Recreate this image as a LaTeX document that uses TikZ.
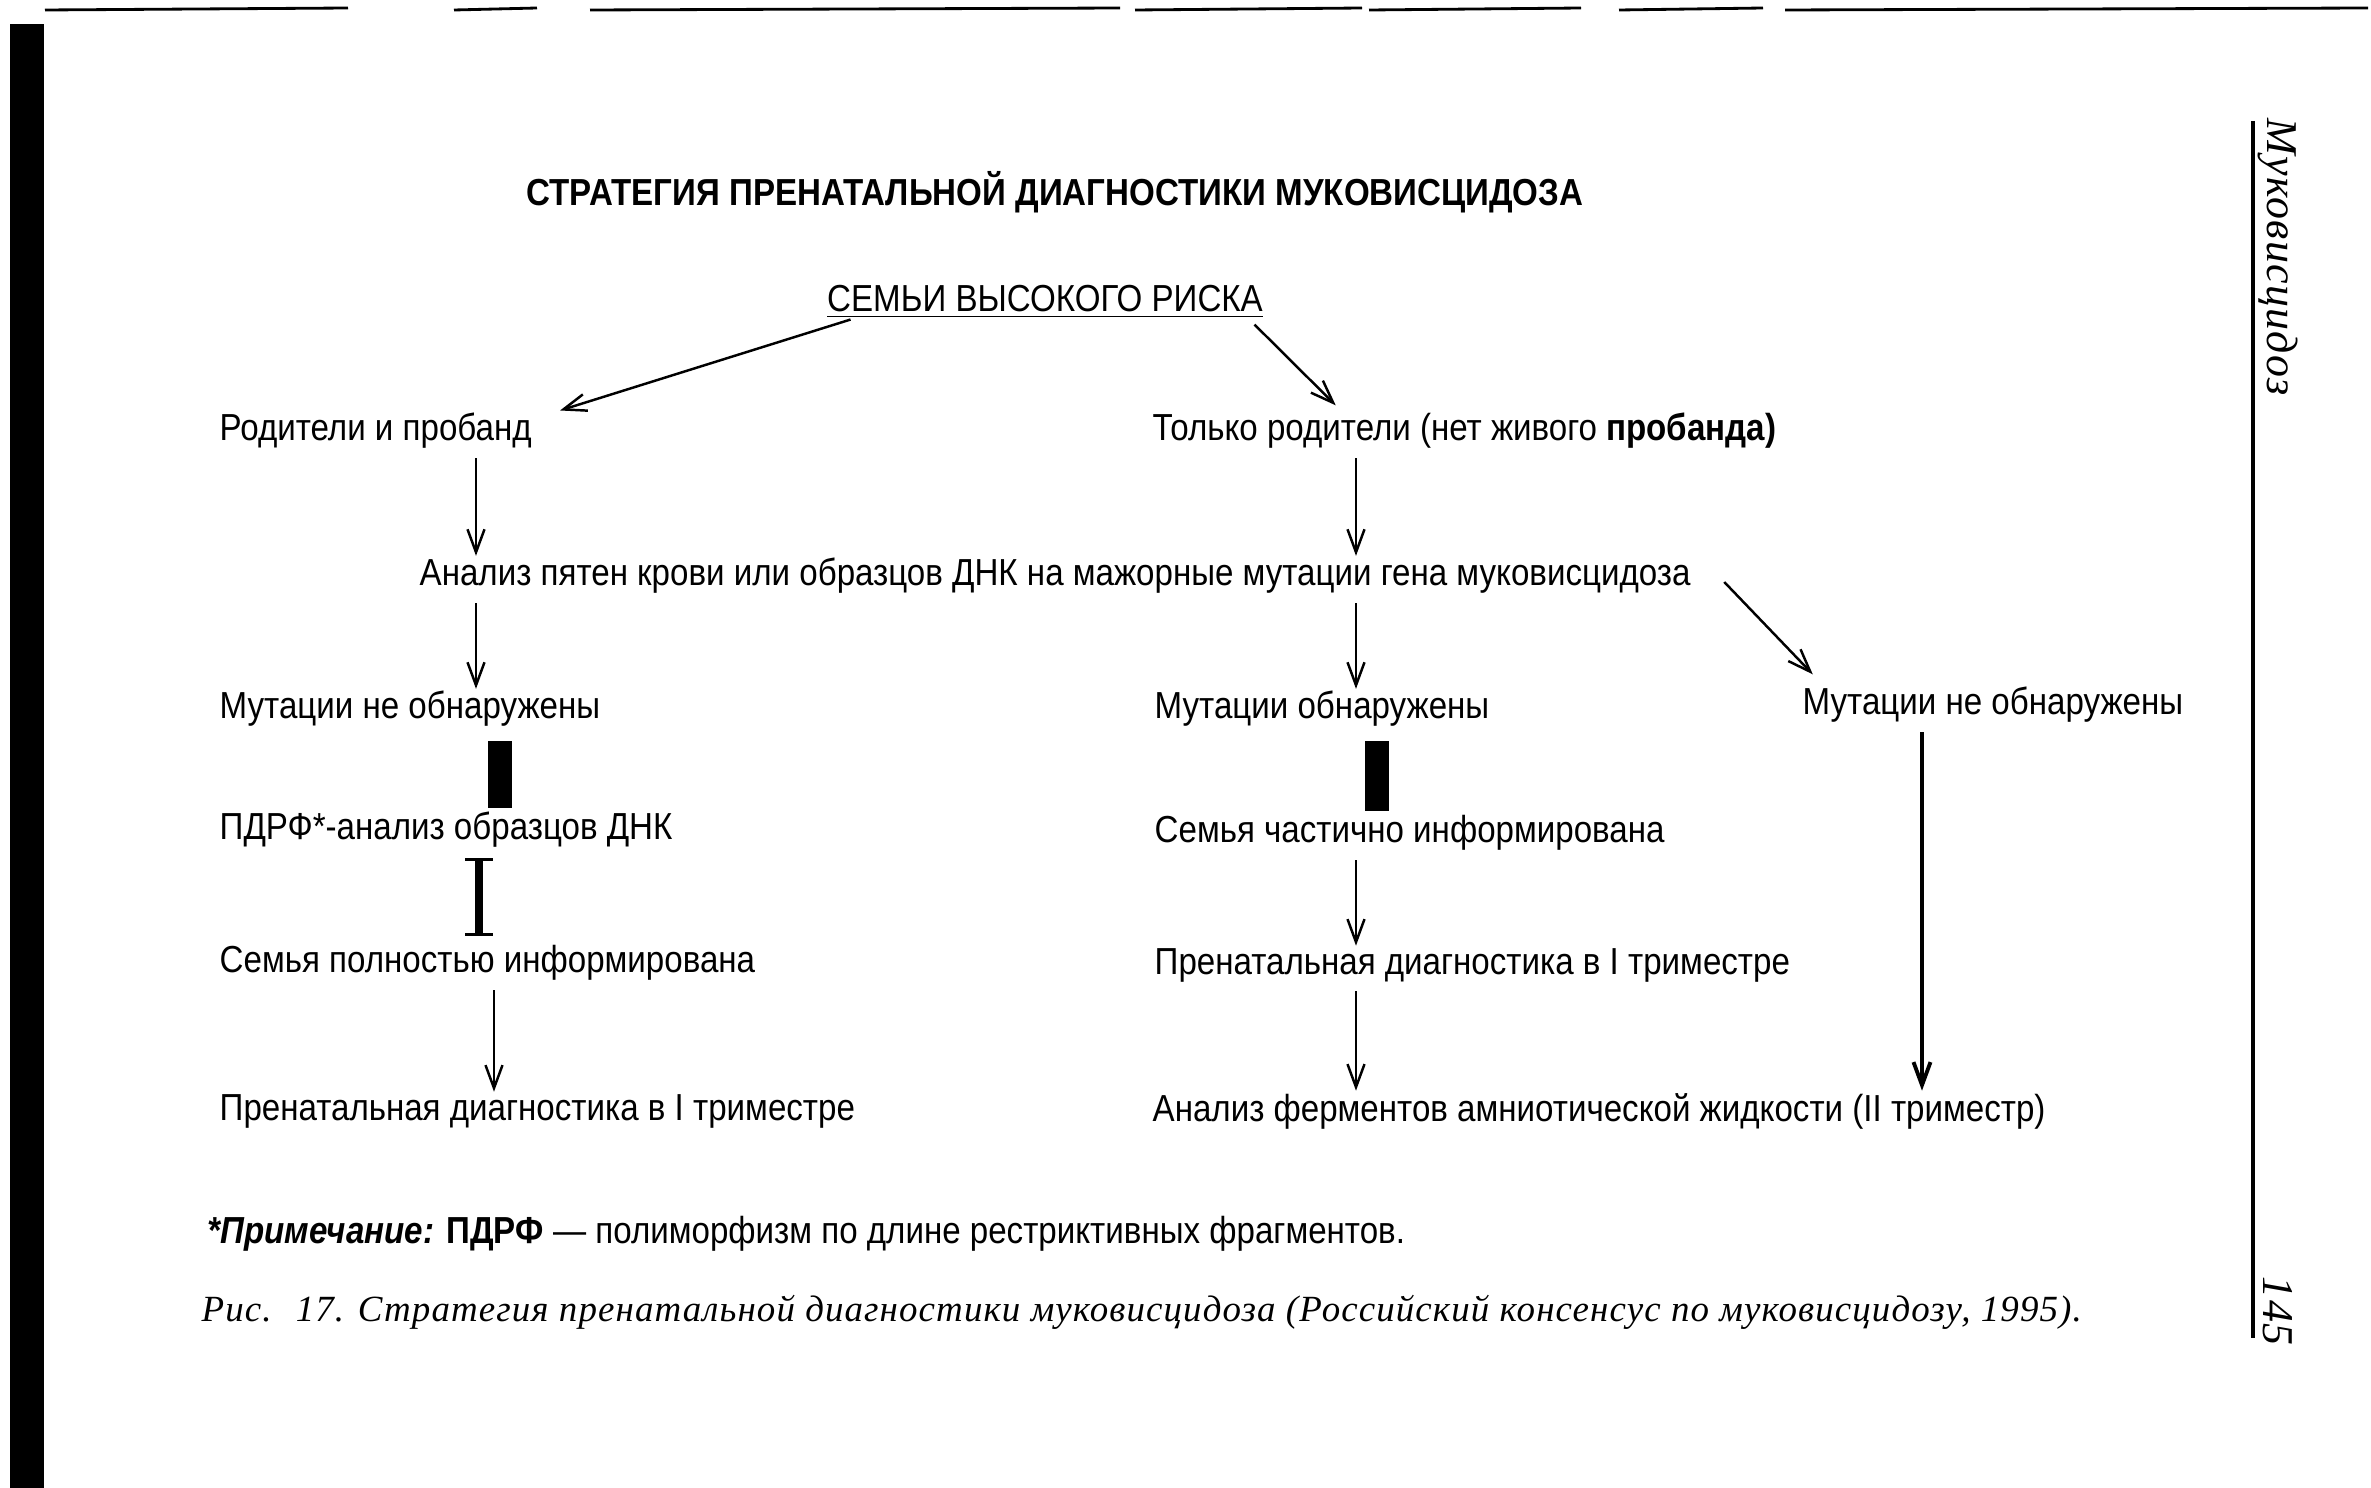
\documentclass[tikz,border=0pt]{standalone}
\usepackage{fontspec}
\setmainfont[FakeStretch=0.88]{Liberation Sans}
\newfontfamily\serifit[LetterSpace=3]{Liberation Serif}
\usepackage{tikz}
\usetikzlibrary{arrows.meta}

\begin{document}
\begin{tikzpicture}[x=0.01cm,y=-0.01cm,>={Straight Barb[length=2.3mm,width=1.7mm]},
    txt/.style={anchor=west,inner sep=0pt,font=\fontsize{10.7}{12}\selectfont},
    arr/.style={->,line width=0.7pt,shorten <=2.5pt,shorten >=0.5pt},
    bar/.style={line width=0.24cm,shorten <=4pt,shorten >=1pt},
    ibeam/.style={{Bar[width=2.7mm,line width=0.9pt]}-{Bar[width=2.7mm,line width=0.9pt]},
      line width=2.2pt,shorten <=2.7pt,shorten >=2.4pt}]
    \useasboundingbox (0,0) rectangle (2371,1488);
    % page edges of the scan
    \fill (10,24) rectangle (44,1488);
    \foreach \a/\b in {45/348,454/537,590/1120,1135/1362,1369/1581,1619/1763,1785/2368}
        \draw[line width=0.8pt] (\a,10) -- (\b,8);
    \draw[line width=1.4pt] (2253,121) -- (2253,1338);
    \node[rotate=-90,inner sep=0pt,font=\serifit\itshape\fontsize{12.5}{14}\selectfont] (side) at (2278,257) {Муковисцидоз};
    \node[rotate=-90,inner sep=0pt,font=\serifit\itshape\fontsize{12.5}{14}\selectfont] (pg) at (2278,1311) {145};

    \node[inner sep=0pt,font=\bfseries\fontsize{10.7}{12}\selectfont] (title) at (1055,192) {СТРАТЕГИЯ ПРЕНАТАЛЬНОЙ ДИАГНОСТИКИ МУКОВИСЦИДОЗА};
    \node[txt,anchor=center] (risk) at (1045,302) {\underline{СЕМЬИ ВЫСОКОГО РИСКА}};
    \node[txt] (rod) at (219,431) {Родители и пробанд};
    \node[txt] (tol) at (1152,431) {Только родители (нет живого \textbf{пробанда)}};
    \node[txt] (anal) at (419,576) {Анализ пятен крови или образцов ДНК на мажорные мутации гена муковисцидоза};
    \node[txt] (mutL) at (219,709) {Мутации не обнаружены};
    \node[txt] (mutM) at (1154,709) {Мутации обнаружены};
    \node[txt] (mutR) at (1802,705) {Мутации не обнаружены};
    \node[txt] (pdrf) at (219,830) {ПДРФ*-анализ образцов ДНК};
    \node[txt] (chast) at (1154,833) {Семья частично информирована};
    \node[txt] (poln) at (219,963) {Семья полностью информирована};
    \node[txt] (prenM) at (1154,965) {Пренатальная диагностика в I триместре};
    \node[txt] (prenL) at (219,1111) {Пренатальная диагностика в I триместре};
    \node[txt] (ferm) at (1152,1111) {Анализ ферментов амниотической жидкости (II триместр)};
    \node[txt] (note) at (207,1234) {\textbf{\textit{*Примечание:}} \textbf{ПДРФ} — полиморфизм по длине рестриктивных фрагментов.};
    \node[txt,font=\serifit\itshape\fontsize{10.5}{13}\selectfont] (cap) at (201,1312) {Рис.~ 17. Стратегия пренатальной диагностики муковисцидоза (Российский консенсус по муковисцидозу, 1995).};

    \coordinate (colL) at (476,0);
    \coordinate (colL2) at (494,0);
    \coordinate (colLb) at (500,0);
    \coordinate (colI) at (479,0);
    \coordinate (colM) at (1356,0);
    \coordinate (colMb) at (1377,0);
    \coordinate (colR) at (1922,0);

    \path[arr] ([shift={(24,0)}]risk.south west) edge[shorten <=0pt] ([shift={(26,-20)}]rod.east)
        ([shift={(-9,5)}]risk.south east) edge[shorten <=0pt] ([shift={(185,-6)}]tol.north west)
        (colL |- rod.south) edge (colL |- anal.north)
        (colM |- tol.south) edge (colM |- anal.north)
        (colL |- anal.south) edge (colL |- mutL.north)
        (colM |- anal.south) edge (colM |- mutM.north)
        ([shift={(33,6)}]anal.east) edge[shorten <=0pt] ([shift={(12,-11)}]mutR.north west)
        (colM |- chast.south) edge (colM |- prenM.north)
        (colL2 |- poln.south) edge (colL2 |- prenL.north)
        (colM |- prenM.south) edge (colM |- ferm.north)
        (colR |- mutR.south) edge[line width=1.1pt] (colR |- ferm.north);
    \draw[bar] (colLb |- mutL.south) -- (colLb |- pdrf.north);
    \draw[bar] (colMb |- mutM.south) -- (colMb |- chast.north);
    \draw[ibeam] (colI |- pdrf.south) -- (colI |- poln.north);
\end{tikzpicture}
\end{document}
